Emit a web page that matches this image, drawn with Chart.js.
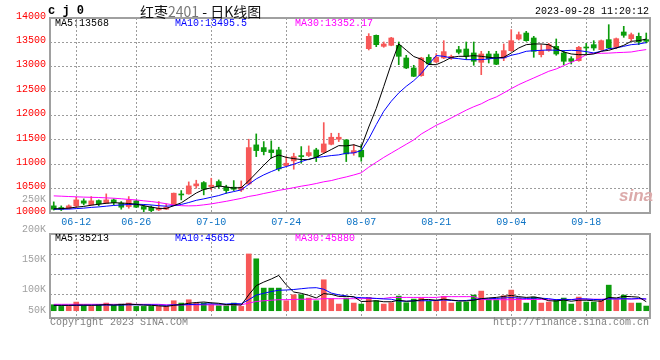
<!DOCTYPE html>
<html>
<head>
<meta charset="utf-8">
<script src="https://cdn.jsdelivr.net/npm/chart.js@4.4.0/dist/chart.umd.min.js"></script>
<style>
  html, body { margin: 0; padding: 0; background: #fff; }
  #wrap { position: relative; width: 660px; height: 360px; overflow: hidden;
          font-family: "Liberation Mono", "DejaVu Sans Mono", monospace; font-size: 10px; }
  #wrap canvas { position: absolute; left: 0; }
  .t { position: absolute; white-space: pre; line-height: 12px; height: 12px; }
</style>
</head>
<body>
<div id="wrap">
  <canvas id="kline" width="660" height="230" style="top:0"></canvas>
  <canvas id="vol" width="660" height="140" style="top:220px"></canvas>

  <div class="t" style="left:48px;top:4px;font-size:12px;font-weight:bold;line-height:14px;">c j 0</div>
  <div class="t" style="left:140px;top:2px;font-family:'Noto Sans CJK SC';font-size:14px;line-height:18px;height:18px;color:#111;">红枣<span style="color:#777">2401</span> - 日K线图</div>
  <div class="t" style="right:11px;top:6px;color:#000;">2023-09-28 11:20:12</div>

  <div class="t" style="left:55px;top:18px;color:#000;">MA5:13568</div>
  <div class="t" style="left:175px;top:18px;color:#0000ff;">MA10:13495.5</div>
  <div class="t" style="left:295px;top:18px;color:#ff00ff;">MA30:13352.17</div>

  <div class="t" style="left:55px;top:233px;color:#000;">MA5:35213</div>
  <div class="t" style="left:175px;top:233px;color:#0000ff;">MA10:45652</div>
  <div class="t" style="left:295px;top:233px;color:#ff00ff;">MA30:45880</div>

  <div id="volLabels"></div>

  <div class="t" style="left:50px;top:317px;color:#808080;">Copyright 2023 SINA.COM</div>
  <div class="t" style="right:11px;top:317px;color:#808080;">http://finance.sina.com.cn</div>
  <div class="t" style="left:619px;top:186px;font-family:'Liberation Sans';font-size:17px;font-weight:bold;font-style:italic;line-height:20px;height:20px;color:#dcaaaa;">sina</div>
</div>

<script>
// trading days shown on the chart
const dates = [
  '06-07','06-08','06-09','06-12','06-13','06-14','06-15','06-16','06-19','06-20',
  '06-21','06-26','06-27','06-28','06-29','06-30','07-03','07-04','07-05','07-06',
  '07-07','07-10','07-11','07-12','07-13','07-14','07-17','07-18','07-19','07-20',
  '07-21','07-24','07-25','07-26','07-27','07-28','07-31','08-01','08-02','08-03',
  '08-04','08-07','08-08','08-09','08-10','08-11','08-14','08-15','08-16','08-17',
  '08-18','08-21','08-22','08-23','08-24','08-25','08-28','08-29','08-30','08-31',
  '09-01','09-04','09-05','09-06','09-07','09-08','09-11','09-12','09-13','09-14',
  '09-15','09-18','09-19','09-20','09-21','09-22','09-25','09-26','09-27','09-28'
];
const xTickLabels = ['06-12','06-26','07-10','07-24','08-07','08-21','09-04','09-18'];

const openP = [
  10146,10112,10091,10146,10249,10167,10255,10201,10269,10201,
  10132,10249,10132,10119,10064,10078,10153,10385,10392,10556,
  10624,10542,10645,10529,10529,10474,10597,11397,11342,11294,
  11294,10973,11069,11171,11178,11294,11246,11410,11513,11499,
  11233,11287,13371,13645,13419,13440,13440,13180,12975,12818,
  13194,13098,13180,13180,13351,13364,13283,13091,13262,13262,
  13180,13330,13570,13692,13590,13248,13337,13419,13283,13166,
  13125,13405,13453,13351,13556,13399,13713,13576,13624,13556
];
const highP = [
  10228,10146,10167,10324,10290,10337,10269,10392,10290,10235,
  10337,10255,10167,10146,10235,10187,10410,10460,10638,10672,
  10645,10713,10679,10570,10665,10658,11513,11622,11465,11479,
  11349,11157,11226,11362,11376,11328,11854,11636,11636,11506,
  11403,11403,13679,13652,13508,13604,13508,13235,13030,13194,
  13248,13269,13535,13240,13419,13508,13508,13317,13317,13317,
  13467,13761,13713,13727,13624,13453,13481,13570,13330,13207,
  13419,13481,13535,13549,13863,13590,13829,13692,13692,13692
];
const lowP = [
  10060,10050,10085,10119,10167,10160,10146,10195,10167,10078,
  10098,10110,10000,10000,10050,10070,10150,10269,10385,10508,
  10372,10474,10508,10406,10460,10440,10576,11157,11192,11123,
  10864,10960,10898,11021,11157,11055,11226,11397,11465,11055,
  11185,11062,13344,13412,13399,13430,13043,12961,12797,12804,
  13043,13085,13166,13150,13262,13146,13030,12838,13077,13043,
  13125,13317,13549,13522,13194,13201,13317,13235,13043,13057,
  13112,13262,13337,13337,13371,13371,13604,13535,13453,13488
];
const closeP = [
  10078,10078,10146,10269,10201,10249,10187,10269,10214,10119,
  10269,10119,10078,10050,10098,10119,10406,10370,10556,10597,
  10488,10570,10556,10460,10488,10529,11342,11280,11260,11239,
  10905,11021,11157,11157,11239,11144,11417,11554,11554,11212,
  11280,11150,13624,13453,13467,13590,13214,12975,12804,13180,
  13057,13194,13310,13214,13296,13214,13112,13262,13166,13050,
  13330,13535,13658,13535,13317,13330,13453,13262,13112,13112,
  13399,13385,13385,13535,13385,13576,13645,13658,13508,13522
];
const ma5 = [
  10085,10090,10100,10120,10135,10160,10180,10200,10210,10205,
  10195,10180,10150,10120,10095,10093,10150,10209,10310,10410,
  10483,10516,10553,10534,10512,10521,10660,10820,10980,11130,
  11190,11141,11116,11096,11096,11144,11223,11302,11382,11376,
  11400,11350,11764,12144,12595,13057,13470,13340,13210,13153,
  13046,13042,13109,13191,13214,13214,13228,13214,13194,13180,
  13194,13283,13385,13453,13467,13467,13453,13371,13303,13262,
  13248,13248,13262,13317,13337,13385,13440,13522,13535,13568
];
const ma10 = [
  10078,10078,10080,10090,10100,10115,10125,10140,10155,10165,
  10175,10180,10175,10165,10150,10140,10150,10175,10215,10260,
  10290,10324,10358,10406,10440,10474,10590,10700,10782,10850,
  10911,10952,11000,11055,11103,11137,11157,11178,11192,11226,
  11233,11280,11520,11813,12087,12292,12463,12599,12715,12860,
  13050,13230,13214,13180,13166,13146,13146,13146,13160,13180,
  13180,13235,13269,13317,13330,13337,13344,13337,13330,13337,
  13330,13310,13283,13317,13371,13385,13419,13453,13467,13496
];
const ma30 = [
  10351,10345,10338,10332,10326,10322,10318,10310,10303,10292,
  10278,10268,10250,10235,10215,10190,10165,10150,10146,10150,
  10167,10187,10214,10240,10270,10300,10340,10365,10400,10430,
  10465,10490,10520,10550,10575,10605,10640,10665,10705,10740,
  10780,10825,10940,11040,11140,11230,11320,11410,11500,11620,
  11710,11800,11870,11950,12030,12110,12180,12240,12320,12380,
  12463,12551,12633,12702,12770,12838,12907,12955,13023,13091,
  13160,13248,13276,13276,13280,13289,13295,13303,13330,13352
];

const volume = [
  23400,16900,16900,33800,20800,16900,23400,29900,20800,26000,
  29900,16900,16900,16900,16900,16900,39000,29900,42900,29900,
  29900,23400,19500,19500,29900,16900,222000,203000,88400,88400,
  88400,39000,62400,62400,49400,39000,121000,46800,26000,49400,
  29900,26000,52000,39000,26000,31200,57200,31200,45500,49400,
  36400,36400,55900,29900,33800,33800,61100,76700,42900,42900,
  58500,80600,49400,29900,53300,29900,33800,44200,49400,26000,
  53300,33800,33800,40300,100000,42900,61100,29900,29900,18200
];
const volMa5 = [
  21000,21000,21000,22000,22000,21000,22000,24000,22000,24000,
  26000,24000,22000,21000,19000,17000,21000,24000,29000,32000,
  34000,31000,29000,24000,24000,22000,62000,98000,112000,124000,
  138000,101000,73000,68000,60000,50000,67000,64000,56000,56000,
  55000,36000,37000,39000,35000,35000,41000,37000,38000,43000,
  44000,41000,45000,42000,38000,38000,41000,47000,50000,52000,
  56000,60000,55000,52000,54000,49000,39000,38000,42000,37000,
  41000,41000,39000,37000,52000,50000,56000,55000,53000,35200
];
const volMa10 = [
  21000,21000,21000,21000,21000,22000,22000,22000,22000,22000,
  23000,23000,23000,23000,22000,21000,23000,23000,24000,25000,
  26000,27000,26000,26000,28000,27000,43000,61000,68000,75000,
  80000,81000,83000,86000,89000,90000,84000,69000,62000,58000,
  53000,51000,50000,48000,46000,45000,38000,37000,39000,39000,
  39000,40000,42000,40000,39000,40000,43000,47000,47000,48000,
  50000,51000,50000,48000,49000,49000,47000,43000,45000,43000,
  47000,46000,44000,43000,47000,46000,47000,46000,48000,45650
];
const volMa30 = [
  25000,25000,25000,25000,25000,25000,25000,25000,25000,25000,
  25000,25000,25000,25000,25000,23000,23000,23000,23000,23000,
  23000,23000,23000,23000,23000,23000,30000,36000,39000,41000,
  43000,43000,44000,45000,45000,45000,47000,47000,47000,47000,
  47000,47000,48000,48000,48000,52000,52000,52000,52000,52000,
  52000,52000,55000,55000,55000,55000,55000,44000,43000,43000,
  43000,43000,44000,44000,44000,44000,43000,43000,44000,44000,
  45000,45000,45000,45000,46000,46000,46000,46000,46000,45880
];

// Sina prints the volume axis labels a bit off its own grid
const volTickLabels = ['250K','200K','150K','100K','50K'];
const volTickTops = [194, 224, 254, 284, 305];
const volGridValues = [62000, 140000, 218000];

const UP = '#f75858';
const DOWN = '#0c9c0c';
const GRID = '#9c9c9c';
const MONO = '"Liberation Mono", "DejaVu Sans Mono", monospace';
const candleColor = closeP.map((c, i) => (c >= openP[i] ? UP : DOWN));

volTickLabels.forEach((txt, i) => {
  const d = document.createElement('div');
  d.className = 't';
  d.style.right = '614px';
  d.style.top = volTickTops[i] + 'px';
  d.style.color = '#a0a0a0';
  d.textContent = txt;
  document.getElementById('volLabels').appendChild(d);
});

const frame = {
  id: 'frame',
  afterDraw(chart) {
    const { ctx, chartArea: a } = chart;
    ctx.save();
    ctx.strokeStyle = '#a0a0a0';
    ctx.lineWidth = 2;
    ctx.strokeRect(a.left, a.top, a.right - a.left, a.bottom - a.top);
    ctx.restore();
  }
};

const xGridColor = (ctx) => (xTickLabels.includes(dates[ctx.index]) ? GRID : 'rgba(0,0,0,0)');

const lineSet = (data, color) => ({
  type: 'line',
  data: data,
  borderColor: color,
  borderWidth: 1,
  pointRadius: 0,
  tension: 0,
  order: 0,
});

new Chart(document.getElementById('kline'), {
  data: {
    labels: dates,
    datasets: [
      {
        type: 'bar',
        data: lowP.map((l, i) => [l, highP[i]]),
        backgroundColor: candleColor,
        barThickness: 1,
        grouped: false,
        order: 3,
      },
      {
        type: 'bar',
        data: openP.map((o, i) => [o, closeP[i]]),
        backgroundColor: candleColor,
        barThickness: 5,
        minBarLength: 1,
        grouped: false,
        order: 2,
      },
      lineSet(ma5, '#000000'),
      lineSet(ma10, '#0000ff'),
      lineSet(ma30, '#ff00ff'),
    ],
  },
  options: {
    responsive: false,
    animation: false,
    layout: { padding: { top: 18, right: 10, bottom: 5, left: 0 } },
    plugins: { legend: { display: false }, tooltip: { enabled: false } },
    scales: {
      x: {
        offset: true,
        grid: { offset: false, drawTicks: false, color: xGridColor },
        border: { display: false, dash: [2, 2] },
        ticks: {
          autoSkip: false,
          maxRotation: 0,
          minRotation: 0,
          padding: 3,
          color: '#0b72c4',
          font: { family: MONO, size: 10 },
          callback: (v, i) => (xTickLabels.includes(dates[i]) ? dates[i] : ''),
        },
        afterFit: (scale) => { scale.height = 12; },
      },
      y: {
        min: 10000,
        max: 14000,
        grid: {
          drawTicks: false,
          color: (ctx) => (ctx.tick && (ctx.tick.value === 10000 || ctx.tick.value === 14000) ? 'rgba(0,0,0,0)' : GRID),
        },
        border: { display: false, dash: [2, 2] },
        ticks: {
          stepSize: 500,
          padding: 4,
          labelOffset: -2,
          color: '#ff0000',
          font: { family: MONO, size: 10 },
          callback: (v) => String(v),
        },
        afterFit: (scale) => { scale.width = 50; },
      },
    },
  },
  plugins: [frame],
});

new Chart(document.getElementById('vol'), {
  data: {
    labels: dates,
    datasets: [
      {
        type: 'bar',
        data: volume,
        backgroundColor: candleColor,
        barThickness: 5,
        order: 2,
      },
      lineSet(volMa5, '#000000'),
      lineSet(volMa10, '#0000ff'),
      lineSet(volMa30, '#ff00ff'),
    ],
  },
  options: {
    responsive: false,
    animation: false,
    layout: { padding: { top: 14, right: 10, bottom: 42, left: 0 } },
    plugins: { legend: { display: false }, tooltip: { enabled: false } },
    scales: {
      x: {
        offset: true,
        grid: { offset: false, drawTicks: false, color: xGridColor },
        border: { display: false, dash: [2, 2] },
        ticks: { display: false, autoSkip: false },
        afterFit: (scale) => { scale.height = 0; },
      },
      y: {
        min: -28500,
        max: 300000,
        grid: { drawTicks: false, color: GRID },
        border: { display: false, dash: [2, 2] },
        ticks: { display: false },
        afterBuildTicks: (scale) => { scale.ticks = volGridValues.map((v) => ({ value: v })); },
        afterFit: (scale) => { scale.width = 50; },
      },
    },
  },
  plugins: [frame],
});
</script>
</body>
</html>
